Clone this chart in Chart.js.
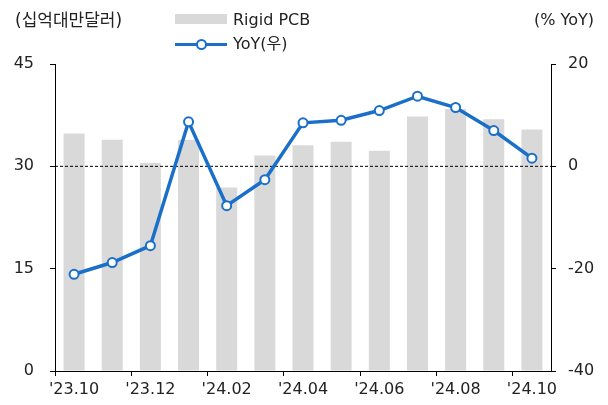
<!DOCTYPE html>
<html>
<head>
<meta charset="utf-8">
<script src="https://cdn.jsdelivr.net/npm/chart.js@4"></script>
<style>
  body { margin: 0; background: #fff; }
  #wrap { position: relative; width: 608px; height: 405px; font-family: "DejaVu Sans", "Noto Sans CJK KR", sans-serif; color: #222; }
  .lbl { position: absolute; font-size: 16px; line-height: 20px; white-space: nowrap; }
  .sw { position: absolute; }
</style>
</head>
<body>
<div id="wrap">
  <canvas id="myChart" width="608" height="405"></canvas>
  <div class="lbl" style="left:15px; top:10px; font-size:17px;">(십억대만달러)</div>
  <div class="lbl" style="right:14px; top:10px;">(% YoY)</div>
  <div class="sw" style="left:175px; top:14px; width:52px; height:10px; background:#d9d9d9;"></div>
  <div class="lbl" style="left:233px; top:10px;">Rigid PCB</div>
  <div class="sw" style="left:175px; top:43px; width:52px; height:3px; background:#1a6fc9;"></div>
  <div class="sw" style="left:196px; top:39px; width:7px; height:7px; border:2px solid #1a6fc9; border-radius:50%; background:#fff;"></div>
  <div class="lbl" style="left:233px; top:34px;">YoY(우)</div>
</div>
<script>
var months = ["'23.10", "'23.11", "'23.12", "'24.01", "'24.02", "'24.03", "'24.04", "'24.05", "'24.06", "'24.07", "'24.08", "'24.09", "'24.10"];
var pcbSales = [34.8, 33.9, 30.5, 33.9, 26.9, 31.6, 33.1, 33.6, 32.3, 37.3, 38.4, 36.9, 35.4];
var yoyPct = [-21.1, -18.8, -15.5, 8.7, -7.7, -2.6, 8.5, 9.0, 10.9, 13.7, 11.5, 7.0, 1.6];
var leftTicks = [0, 15, 30, 45];
var rightTicks = [-40, -20, 0, 20];

// dashed zero line on the right axis
var zeroLine = {
  id: 'zeroLine',
  afterDatasetDraw: function(chart, args) {
    if (args.index !== 0) return;
    var y = chart.scales.y1.getPixelForValue(0);
    var ctx = chart.ctx;
    ctx.save();
    ctx.strokeStyle = '#000';
    ctx.lineWidth = 1;
    ctx.setLineDash([3, 2]);
    ctx.beginPath();
    ctx.moveTo(chart.chartArea.left, y);
    ctx.lineTo(chart.chartArea.right, y);
    ctx.stroke();
    ctx.restore();
  }
};

var tickFont = { family: '"DejaVu Sans", sans-serif', size: 16 };

var ctx = document.getElementById('myChart').getContext('2d');
var myChart = new Chart(ctx, {
  data: {
    labels: months,
    datasets: [{
      type: 'bar',
      label: 'Rigid PCB',
      data: pcbSales,
      backgroundColor: '#d9d9d9',
      barPercentage: 0.55,
      categoryPercentage: 1,
      yAxisID: 'y',
      order: 1
    }, {
      type: 'line',
      label: 'YoY(우)',
      data: yoyPct,
      borderColor: '#1a6fc9',
      borderWidth: 3.5,
      pointRadius: 4.5,
      pointBorderWidth: 2,
      pointBackgroundColor: '#fff',
      pointBorderColor: '#1a6fc9',
      tension: 0,
      yAxisID: 'y1',
      order: 0
    }]
  },
  options: {
    responsive: false,
    animation: false,
    layout: { padding: { top: 64, left: 0, right: 0, bottom: 0 } },
    plugins: { legend: { display: false }, tooltip: { enabled: false } },
    scales: {
      x: {
        grid: {
          offset: true,
          drawOnChartArea: false,
          tickLength: 5,
          tickColor: function(c) { return c.index % 2 === 0 ? '#000' : 'rgba(0,0,0,0)'; }
        },
        border: { color: '#000', width: 1 },
        ticks: {
          color: '#222',
          font: tickFont,
          maxRotation: 0,
          autoSkip: false,
          padding: 4,
          callback: function(v, i) { return i % 2 === 0 ? months[i] : ''; }
        },
        afterFit: function(s) { s.height = 34; }
      },
      y: {
        position: 'left',
        min: 0,
        max: 45,
        afterBuildTicks: function(s) { s.ticks = leftTicks.map(function(v) { return { value: v }; }); },
        grid: { drawOnChartArea: false, tickLength: 5, tickColor: '#000' },
        border: { color: '#000', width: 1 },
        ticks: { color: '#222', font: tickFont, padding: 16 },
        afterFit: function(s) { s.width = 55; }
      },
      y1: {
        position: 'right',
        min: -40,
        max: 20,
        afterBuildTicks: function(s) { s.ticks = rightTicks.map(function(v) { return { value: v }; }); },
        grid: { drawOnChartArea: false, tickLength: 5, tickColor: '#000' },
        border: { color: '#000', width: 1 },
        ticks: { color: '#222', font: tickFont, padding: 12 },
        afterFit: function(s) { s.width = 57; }
      }
    }
  },
  plugins: [zeroLine]
});
</script>
</body>
</html>
